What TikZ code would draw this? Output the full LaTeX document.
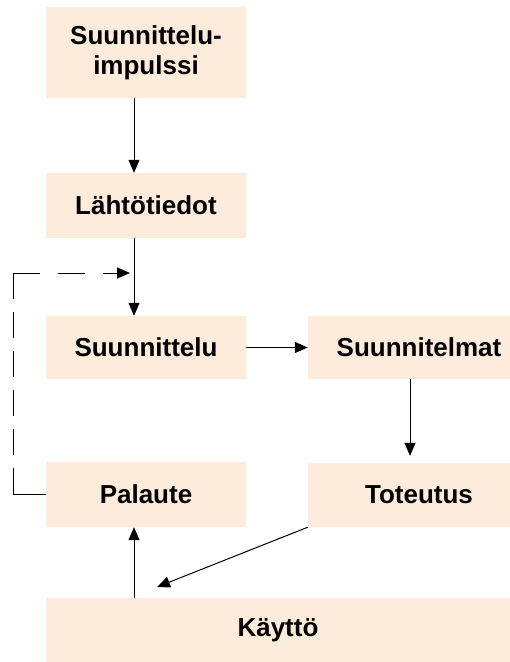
\documentclass[tikz,border=0pt]{standalone}
\usepackage{fontspec}
\setmainfont{Liberation Sans}
\usetikzlibrary{arrows.meta}
\definecolor{boxFill}{RGB}{253,236,220}

\begin{document}
\begin{tikzpicture}
[x=1pt,y=-1pt,%
  lineDecorate/.style={-{Triangle[length=13pt,width=11pt]},line width=1pt},%
  dashDecorate/.style={line width=1pt},%
  nodeDecorate/.style={shape=rectangle,fill=boxFill,inner sep=0pt,align=center,
    font=\fontsize{26}{30}\selectfont\bfseries}]
\useasboundingbox (0,0) rectangle (510,662);
%% boxes
\foreach \nodename/\x/\y/\w/\h/\txt in {
  %% left column
  impulssi/146/52.5/200/91/{Suunnittelu-\\impulssi},
  lahtotiedot/146/205.5/200/65/{Lähtötiedot},
  suunnittelu/146/347.5/200/63/{Suunnittelu},
  palaute/146/494.5/200/65/{Palaute},
  %% right column
  suunnitelmat/419/347.5/222/63/{Suunnitelmat},
  toteutus/419/495/222/64/{Toteutus},
  %% bottom
  kaytto/278/630/464/64/{Käyttö}}
{
  \node (\nodename) at (\x,\y) [nodeDecorate,minimum width=\w,minimum height=\h] {\txt};
}
%% free ends
\coordinate (kayttoIn) at (157,587);
\coordinate (fbLow) at (13,468);
\coordinate (fbCorner) at (13,273);
\coordinate (fbTip) at (130,273);
%% arrows
\draw[lineDecorate] ([xshift=-12pt]impulssi.south) -- ([xshift=-12pt]lahtotiedot.north);
\draw[lineDecorate] ([xshift=-12pt]lahtotiedot.south) -- ([xshift=-12pt]suunnittelu.north);
\draw[lineDecorate] (suunnittelu.east) -- (suunnitelmat.west);
\draw[lineDecorate] ([xshift=-9pt]suunnitelmat.south) -- ([xshift=-9pt,yshift=7pt]toteutus.north);
\draw[lineDecorate] (toteutus.south west) -- (kayttoIn);
\draw[lineDecorate] ([xshift=-12pt]palaute.south |- kaytto.north) -- ([xshift=-12pt]palaute.south);
%% feedback loop
\draw[dashDecorate] (palaute.west) -| (fbLow);
\draw[dashDecorate,dash pattern=on 26pt off 13pt,dash phase=26pt] (fbLow) -- (fbCorner);
\draw[lineDecorate,dash pattern=on 27pt off 18pt] (fbCorner) -- (fbTip);
\end{tikzpicture}
\end{document}
